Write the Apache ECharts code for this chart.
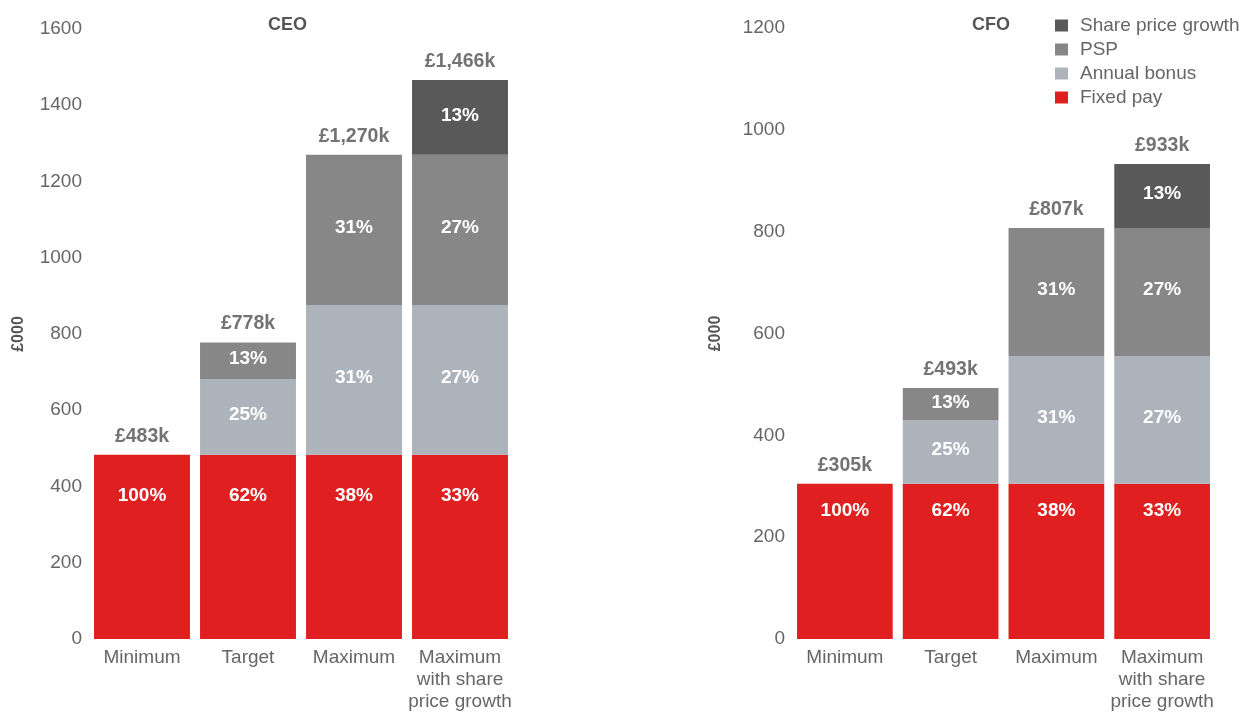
<!DOCTYPE html>
<html><head><meta charset="utf-8">
<script src="https://cdn.jsdelivr.net/npm/echarts@6/dist/echarts.min.js"></script>
<style>html,body{margin:0;padding:0;background:#fff}#c{width:1248px;height:713px}</style>
</head><body><div id="c"></div>
<script>
const categories = ['Minimum', 'Target', 'Maximum', 'Maximum\nwith share\nprice growth'];
const seriesNames = ['Fixed pay', 'Annual bonus', 'PSP', 'Share price growth'];
const colors = ['#e02020', '#adb3bb', '#878787', '#595959'];

// CEO (£000)
const ceoFixed = [483, 483, 483, 483];
const ceoBonus = [null, 198, 393, 393];
const ceoPSP = [null, 97, 394, 394];
const ceoShare = [null, null, null, 196];
const ceoTotals = [483, 778, 1270, 1466];
const ceoTotalLabels = ['£483k', '£778k', '£1,270k', '£1,466k'];
const ceoPct = [['100%', '62%', '38%', '33%'], [null, '25%', '31%', '27%'], [null, '13%', '31%', '27%'], [null, null, null, '13%']];

// CFO (£000)
const cfoFixed = [305, 305, 305, 305];
const cfoBonus = [null, 124, 251, 251];
const cfoPSP = [null, 64, 251, 251];
const cfoShare = [null, null, null, 126];
const cfoTotals = [305, 493, 807, 933];
const cfoTotalLabels = ['£305k', '£493k', '£807k', '£933k'];
const cfoPct = [['100%', '62%', '38%', '33%'], [null, '25%', '31%', '27%'], [null, '13%', '31%', '27%'], [null, null, null, '13%']];

const yTicksCEO = {min: 0, max: 1600, interval: 200};
const yTicksCFO = {min: 0, max: 1200, interval: 200};

const FONT = '"Liberation Sans", Arial, sans-serif';

function barSeries(idx, data, pct, axisIdx, fixedDist) {
  const isFixed = idx === 0;
  return {
    name: seriesNames[idx], type: 'bar', stack: 's' + axisIdx,
    xAxisIndex: axisIdx, yAxisIndex: axisIdx,
    data: data, barCategoryGap: '9.5%',
    itemStyle: {color: colors[idx]},
    label: {
      show: true,
      position: isFixed ? 'insideTop' : 'inside',
      distance: isFixed ? fixedDist : 5,
      offset: isFixed ? [0, 0] : [0, -2],
      color: '#fff', fontWeight: 'bold', fontSize: 19, fontFamily: FONT,
      formatter: p => pct[idx][p.dataIndex] || ''
    },
    emphasis: {disabled: true}
  };
}
function totalSeries(totals, labels, axisIdx) {
  return {
    type: 'scatter', xAxisIndex: axisIdx, yAxisIndex: axisIdx,
    data: totals, symbolSize: 1, itemStyle: {color: 'rgba(0,0,0,0)'},
    label: {show: true, position: 'top', distance: 8, color: '#505050', fontWeight: 'bold', fontSize: 19.5, fontFamily: FONT,
      formatter: p => labels[p.dataIndex]},
    silent: true, z: 5
  };
}
function xAxis(gi) {
  return {
    type: 'category', gridIndex: gi, data: categories,
    axisLine: {show: false}, axisTick: {show: false},
    axisLabel: {color: '#666', fontSize: 19, fontFamily: FONT, lineHeight: 22, margin: 8, interval: 0}
  };
}
function yAxis(gi, t, gap) {
  return {
    type: 'value', gridIndex: gi, min: t.min, max: t.max, interval: t.interval,
    name: '£000', nameLocation: 'middle', nameGap: gap, nameRotate: 90,
    nameTextStyle: {color: '#555', fontWeight: 'bold', fontSize: 16, fontFamily: FONT},
    axisLine: {show: false}, axisTick: {show: false}, splitLine: {show: false},
    axisLabel: {color: '#666', fontSize: 19, fontFamily: FONT, margin: 7, formatter: v => String(v)}
  };
}

const option = {
  animation: false,
  textStyle: {fontFamily: FONT},
  title: [
    {text: 'CEO', left: 263, top: 11, textStyle: {color: '#555', fontWeight: 'bold', fontSize: 18, fontFamily: FONT}},
    {text: 'CFO', left: 967, top: 11, textStyle: {color: '#555', fontWeight: 'bold', fontSize: 18, fontFamily: FONT}}
  ],
  legend: {
    orient: 'vertical', left: 1055, top: 16, padding: 0,
    data: ['Share price growth', 'PSP', 'Annual bonus', 'Fixed pay'],
    itemWidth: 13, itemHeight: 12, itemGap: 5,
    icon: 'rect',
    textStyle: {color: '#666', fontSize: 19, fontFamily: FONT, lineHeight: 18, padding: [0, 0, 0, 7]},
    selectedMode: false
  },
  grid: [
    {left: 89, width: 424, top: 29, bottom: 71},
    {left: 792, width: 423, top: 28, bottom: 71}
  ],
  xAxis: [xAxis(0), xAxis(1)],
  yAxis: [yAxis(0, yTicksCEO, 62), yAxis(1, yTicksCFO, 68)],
  series: [
    barSeries(0, ceoFixed, ceoPct, 0, 31),
    barSeries(1, ceoBonus, ceoPct, 0),
    barSeries(2, ceoPSP, ceoPct, 0),
    barSeries(3, ceoShare, ceoPct, 0),
    totalSeries(ceoTotals, ceoTotalLabels, 0),
    barSeries(0, cfoFixed, cfoPct, 1, 18),
    barSeries(1, cfoBonus, cfoPct, 1),
    barSeries(2, cfoPSP, cfoPct, 1),
    barSeries(3, cfoShare, cfoPct, 1),
    totalSeries(cfoTotals, cfoTotalLabels, 1)
  ]
};
echarts.init(document.getElementById('c')).setOption(option);
</script></body></html>
